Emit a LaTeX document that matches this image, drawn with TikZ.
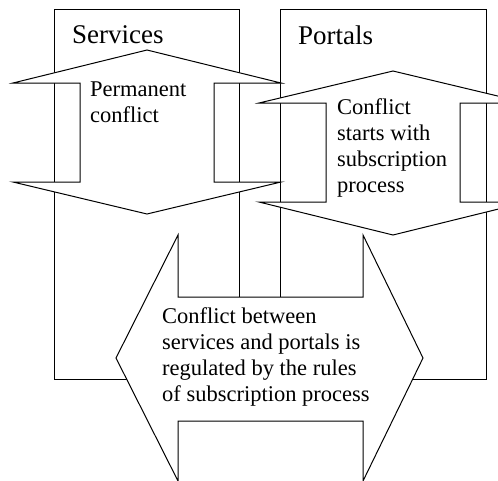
\documentclass[tikz,border=0pt]{standalone}
\usepackage{fontspec}
\setmainfont{Liberation Serif}
\usetikzlibrary{arrows,shapes}
\tikzstyle{frame}=[draw,line width=1pt,inner sep=0pt]
\tikzstyle{bigarrow}=[draw,fill=white,line width=1pt]
\tikzstyle{heading}=[font=\fontsize{27}{32}\selectfont,inner sep=0pt,anchor=base west]
% multi-line texts: placed by the baseline of their last line
\tikzstyle{arrowtext}=[font=\fontsize{22.5}{26}\selectfont,inner sep=0pt,align=left,anchor=base west]

\begin{document}
\begin{tikzpicture}[x=1pt,y=-1pt]

    \useasboundingbox (0,0) rectangle (498,480);
    \clip (0,0) rectangle (498,480);

    % the two columns
    \foreach \x/\y/\w/\name in {146.5/194/185/services, 383/194/206/portals}
        \node[frame, minimum width=\w pt, minimum height=370pt] (\name) at (\x,\y) {};

    \node[heading] (servicestitle) at (72,43) {Services};
    \node[heading] (portalstitle) at (298,44) {Portals};

    % up-down arrows
    \foreach \cx/\s/\h/\ya/\yb/\yc/\yd in {147/67/134/50/83/182/214, 393/67/134/71/103/202/235}
        \draw[bigarrow] (\cx,\ya) -- (\cx+\h,\yb) -- (\cx+\s,\yb) -- (\cx+\s,\yc) -- (\cx+\h,\yc)
            -- (\cx,\yd) -- (\cx-\h,\yc) -- (\cx-\s,\yc) -- (\cx-\s,\yb) -- (\cx-\h,\yb) -- cycle;

    % left-right arrow
    \def\xa{116};
    \def\xb{178};
    \def\xc{363};
    \def\xd{423};
    \draw[bigarrow] (\xa,358) -- (\xb,235) -- (\xb,297) -- (\xc,297) -- (\xc,235) -- (\xd,358)
        -- (\xc,481) -- (\xc,421) -- (\xb,421) -- (\xb,481) -- cycle;

    \node[arrowtext] (permanent) at (90,122) {Permanent\\conflict};
    \node[arrowtext] (starts) at (337,192) {Conflict\\starts with\\subscription\\process};
    \node[arrowtext] (regulated) at (162,401) {Conflict between\\services and portals is\\regulated by the rules\\of subscription process};

\end{tikzpicture}
\end{document}
